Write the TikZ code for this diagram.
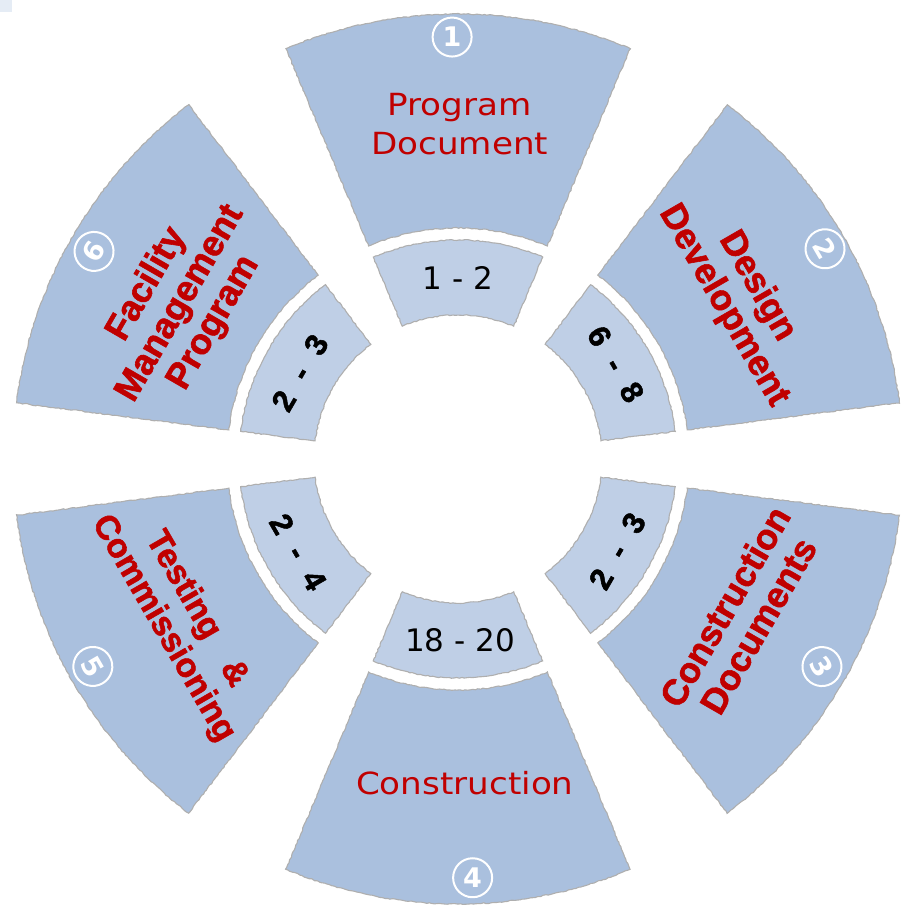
\documentclass[tikz,border=0pt]{standalone}
\usepackage{fontspec}
\setmainfont{Liberation Sans}
\newfontfamily\verd[FakeStretch=1.12]{DejaVu Sans}
\newfontfamily\verdn{DejaVu Sans}
\newfontfamily\heavy[FakeBold=1.6]{Liberation Sans Bold}
\usetikzlibrary{decorations.pathmorphing}
\definecolor{outerfill}{RGB}{170,192,222}
\definecolor{innerfill}{RGB}{191,207,230}
\definecolor{edgegray}{RGB}{175,175,175}
\definecolor{darkred}{RGB}{192,0,0}
\pgfmathsetseed{7}
\tikzset{
  segedge/.style={draw=edgegray, line width=1.1pt, decorate,
    decoration={random steps, segment length=2.6pt, amplitude=0.55pt}},
  outerseg/.style={segedge, fill=outerfill},
  innerseg/.style={segedge, fill=innerfill},
  bigtext/.style={text=darkred, align=center, inner sep=0pt,
    font=\heavy\fontsize{36}{38.5}\selectfont},
  plaintext/.style={text=darkred, align=center, inner sep=0pt,
    font=\verd\fontsize{30.5}{39}\selectfont},
  numtext/.style={text=black, inner sep=0pt,
    font=\heavy\fontsize{31}{31}\selectfont},
  rangetext/.style={text=black, inner sep=0pt,
    font=\verdn\fontsize{31}{31}\selectfont},
  badge/.style={circle, draw=white, line width=2pt, minimum size=39pt,
    inner sep=0pt, text=white, font=\verdn\bfseries\fontsize{27}{27}\selectfont},
}
\begin{document}
\begin{tikzpicture}
\useasboundingbox (0,0) rectangle (901pt,910pt);
\fill[outerfill, opacity=0.3] (0,898pt) rectangle (12pt,910pt);
\begin{scope}[shift={(458pt,451pt)}]
  \foreach \a in {90,30,-30,-90,-150,150} {
    \path[outerseg] (\a-22.75:231pt)
      arc[start angle=\a-22.75, end angle=\a+22.75, radius=231pt]
      -- (\a+22.75:445pt)
      arc[start angle=\a+22.75, end angle=\a-22.75, radius=445pt] -- cycle;
    \path[innerseg] (\a-22.75:144pt)
      arc[start angle=\a-22.75, end angle=\a+22.75, radius=144pt]
      -- (\a+22.75:219pt)
      arc[start angle=\a+22.75, end angle=\a-22.75, radius=219pt] -- cycle;
  }
  % main labels
  \node[plaintext] (t1) at (89.7:335pt) {Program\\Document};
  \node[bigtext, rotate=-60] (t2) at (30:326pt) {Design\\Development};
  \node[bigtext, rotate=60] (t3) at (-29:324pt) {Construction\\Documents};
  \node[plaintext] (t4) at (-88.8:324pt) {Construction};
  \node[bigtext, rotate=-60, font=\heavy\fontsize{34}{38.5}\selectfont] (t5) at (209.9:321pt) {Testing\hspace{0.9em}\&\\Commissioning};
  \node[bigtext, rotate=60] (t6) at (150.75:318pt) {Facility\\Management\\Program};
  % inner labels
  \node[rangetext] (r1) at (90:181pt) {1 - 2};
  \node[numtext, rotate=-60] (r2) at (31:184pt) {6\hspace{0.6em}-\hspace{0.6em}8};
  \node[numtext, rotate=60] (r3) at (-30:184pt) {2\hspace{0.6em}-\hspace{0.6em}3};
  \node[rangetext] (r4) at (-89.4:181pt) {18 - 20};
  \node[numtext, rotate=-60] (r5) at (210.2:185pt) {2\hspace{0.6em}-\hspace{0.6em}4};
  \node[numtext, rotate=60] (r6) at (151.4:180pt) {2\hspace{0.6em}-\hspace{0.6em}3};
  % badges
  \node[badge] (b1) at (90.8:422pt) {1};
  \node[badge, rotate=-60] (b2) at (29.8:423pt) {2};
  \node[badge, rotate=-60] (b3) at (-29.7:419pt) {3};
  \node[badge] (b4) at (-88:419pt) {4};
  \node[badge, rotate=-60] (b5) at (209.6:420pt) {5};
  \node[badge, rotate=60] (b6) at (150.3:419pt) {6};
\end{scope}
\end{tikzpicture}
\end{document}
